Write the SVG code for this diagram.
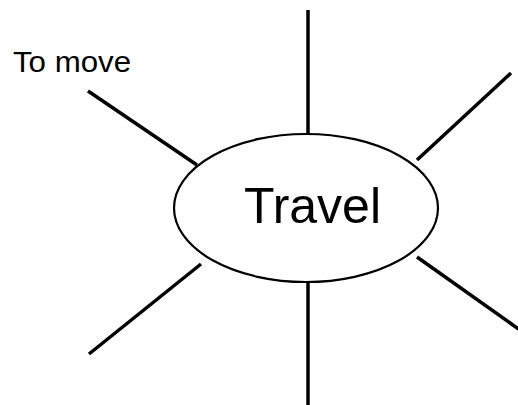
<svg xmlns="http://www.w3.org/2000/svg" width="518" height="405" viewBox="0 0 518 405">
<style>
.ln{stroke:#000;stroke-width:3.5;fill:none}
.txt{font-family:"Liberation Sans",Arial,sans-serif;fill:#000}
</style>
<rect width="518" height="405" fill="#fff"/>
<g id="connectors">
<line class="ln" x1="308" y1="10" x2="308" y2="134"/>
<line class="ln" x1="417" y1="160" x2="511" y2="73"/>
<line class="ln" x1="88" y1="91" x2="197" y2="165"/>
<line class="ln" x1="201" y1="264" x2="89" y2="354"/>
<line class="ln" x1="308" y1="282" x2="308" y2="405"/>
<line class="ln" x1="417" y1="257" x2="520" y2="330"/>
</g>
<g id="travel">
<ellipse cx="306" cy="208" rx="132" ry="74" fill="#fff" stroke="#000" stroke-width="2.2"/>
<text class="txt" x="312.5" y="223" font-size="50" text-anchor="middle">Travel</text>
</g>
<g id="to-move">
<text class="txt" x="13" y="72" font-size="30" textLength="118" lengthAdjust="spacingAndGlyphs">To move</text>
</g>
</svg>
